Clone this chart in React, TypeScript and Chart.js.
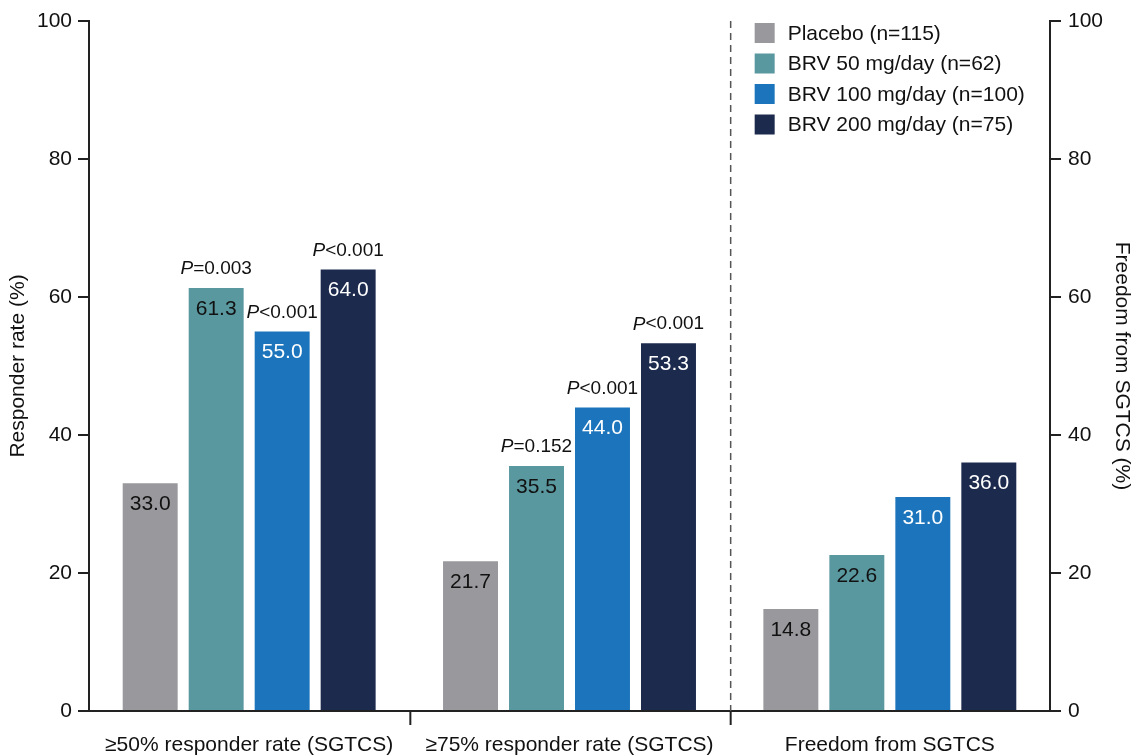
import React, { useEffect, useRef } from 'react';
import { Chart, registerables } from 'chart.js';

Chart.register(...registerables);

const FONT = "'Liberation Sans', Arial, Helvetica, sans-serif";

const categories = ['≥50% responder rate (SGTCS)', '≥75% responder rate (SGTCS)', 'Freedom from SGTCS'];
const seriesLabels = ['Placebo (n=115)', 'BRV 50 mg/day (n=62)', 'BRV 100 mg/day (n=100)', 'BRV 200 mg/day (n=75)'];
const placebo = [33.0, 21.7, 14.8];
const brv50 = [61.3, 35.5, 22.6];
const brv100 = [55.0, 44.0, 31.0];
const brv200 = [64.0, 53.3, 36.0];
const pPlacebo = ['', '', ''];
const p50 = ['=0.003', '=0.152', ''];
const p100 = ['<0.001', '<0.001', ''];
const p200 = ['<0.001', '<0.001', ''];
const seriesColors = ['#99999d', '#5a98a0', '#1c75bc', '#1c2a4d'];
const valueLabelColors = ['#111111', '#111111', '#ffffff', '#ffffff'];
const yMin = 0;
const yMax = 100;
const yStep = 20;
const leftTitle = 'Responder rate (%)';
const rightTitle = 'Freedom from SGTCS (%)';

const seriesValues = [placebo, brv50, brv100, brv200];
const seriesP = [pPlacebo, p50, p100, p200];

const annotationPlugin = {
  id: 'annotations',
  afterDatasetsDraw(chart: any) {
    const ctx = chart.ctx;
    const { chartArea } = chart;
    const xScale = chart.scales.x;
    ctx.save();
    const n = categories.length;
    for (let i = 0; i < n - 1; i++) {
      const sx = (xScale.getPixelForValue(i) + xScale.getPixelForValue(i + 1)) / 2 + 1;
      ctx.strokeStyle = '#222';
      ctx.lineWidth = 2;
      ctx.setLineDash([]);
      ctx.beginPath();
      ctx.moveTo(sx, chartArea.bottom);
      ctx.lineTo(sx, chartArea.bottom + 14);
      ctx.stroke();
      if (i === n - 2) {
        ctx.strokeStyle = '#555';
        ctx.lineWidth = 1.5;
        ctx.setLineDash([7, 5]);
        ctx.beginPath();
        ctx.moveTo(sx, chartArea.top);
        ctx.lineTo(sx, chartArea.bottom);
        ctx.stroke();
        ctx.setLineDash([]);
        const lx = sx + 24;
        let ly = chartArea.top + 2;
        seriesLabels.forEach((lab, k) => {
          ctx.fillStyle = seriesColors[k];
          ctx.fillRect(lx, ly, 20, 20);
          ctx.fillStyle = '#111';
          ctx.font = `21px ${FONT}`;
          ctx.textAlign = 'left';
          ctx.textBaseline = 'middle';
          ctx.fillText(lab, lx + 33, ly + 11);
          ly += 30.5;
        });
      }
    }
    chart.data.datasets.forEach((ds: any, di: number) => {
      const meta = chart.getDatasetMeta(di);
      meta.data.forEach((bar: any, i: number) => {
        const v = ds.data[i];
        ctx.font = `21px ${FONT}`;
        ctx.fillStyle = valueLabelColors[di];
        ctx.textAlign = 'center';
        ctx.textBaseline = 'middle';
        ctx.fillText(v.toFixed(1), bar.x, bar.y + 21);
        const p = seriesP[di][i];
        if (p) {
          ctx.font = `italic 19px ${FONT}`;
          const wP = ctx.measureText('P').width;
          ctx.font = `19px ${FONT}`;
          const wR = ctx.measureText(p).width;
          const start = bar.x - (wP + wR) / 2;
          ctx.fillStyle = '#111';
          ctx.textAlign = 'left';
          ctx.font = `italic 19px ${FONT}`;
          ctx.fillText('P', start, bar.y - 19);
          ctx.font = `19px ${FONT}`;
          ctx.fillText(p, start + wP, bar.y - 19);
        }
      });
    });
    ctx.restore();
  },
};

export default function App() {
  const ref = useRef<HTMLCanvasElement>(null);
  useEffect(() => {
    document.body.style.margin = '0';
    Chart.defaults.font.family = FONT;
    const chart = new Chart(ref.current!, {
      type: 'bar',
      data: {
        labels: categories,
        datasets: seriesValues.map((vals, k) => ({
          label: seriesLabels[k],
          data: vals,
          backgroundColor: seriesColors[k],
          borderWidth: 0,
          categoryPercentage: 0.824,
          barPercentage: 0.833,
          yAxisID: 'y',
        })),
      },
      options: {
        animation: false,
        responsive: true,
        maintainAspectRatio: false,
        layout: { padding: { top: 21, left: 0, right: 0, bottom: 0 } },
        plugins: { legend: { display: false }, tooltip: { enabled: false } },
        scales: {
          x: {
            grid: { display: false },
            border: { display: true, color: '#222', width: 2 },
            ticks: { color: '#111', font: { size: 21 }, padding: 14 },
            afterFit: (s: any) => { s.height = 44; },
          },
          y: {
            position: 'left',
            min: yMin,
            max: yMax,
            ticks: { stepSize: yStep, color: '#111', font: { size: 21 }, padding: 6 },
            grid: { drawOnChartArea: false, drawTicks: true, tickLength: 11, color: '#222', lineWidth: 2 },
            border: { display: true, color: '#222', width: 2 },
            title: { display: true, text: leftTitle, color: '#111', font: { size: 21, lineHeight: 1 }, padding: { top: 8, bottom: 0 } },
            afterFit: (s: any) => { s.width = 89; },
          },
          y2: {
            position: 'right',
            min: yMin,
            max: yMax,
            ticks: { stepSize: yStep, color: '#111', font: { size: 21 }, padding: 7 },
            grid: { drawOnChartArea: false, drawTicks: true, tickLength: 11, color: '#222', lineWidth: 2 },
            border: { display: true, color: '#222', width: 2 },
            title: { display: true, text: rightTitle, color: '#111', font: { size: 21, lineHeight: 1 }, padding: { top: 1, bottom: 0 } },
            afterFit: (s: any) => { s.width = 83; },
          },
        },
      },
      plugins: [annotationPlugin],
    });
    return () => chart.destroy();
  }, []);
  return (
    <div style={{ position: 'relative', width: 1133, height: 755 }}>
      <canvas ref={ref} />
    </div>
  );
}
